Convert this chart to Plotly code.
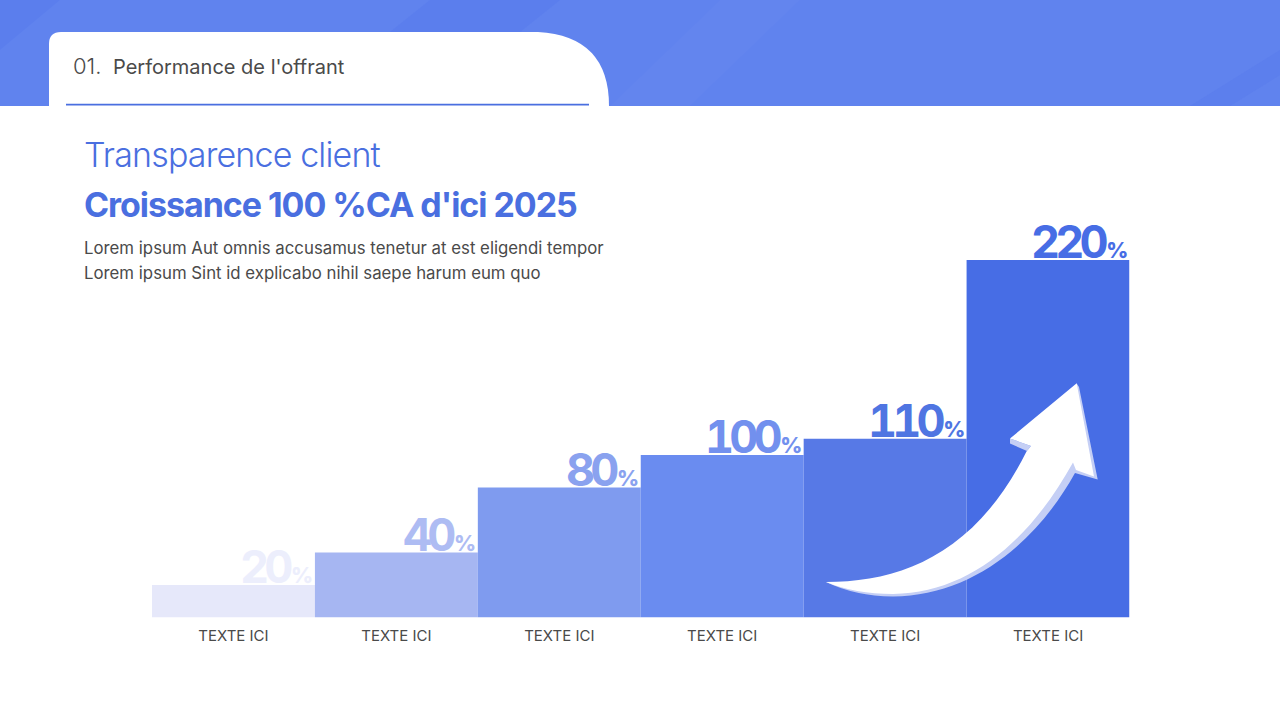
import plotly.graph_objects as go

categories = ["TEXTE ICI"] * 6
values = [20, 40, 80, 100, 110, 220]
bar_colors = ["#e6e8fa", "#a6b6f2", "#7f9bef", "#6a8cf0", "#5779e6", "#476de5"]
label_colors = ["#eceefc", "#aebcf3", "#8aa2ef", "#7290ee", "#4f75e2", "#476de5"]
positions = list(range(len(values)))

W, H = 1280, 720
def X(p): return p / W
def Y(p): return 1 - p / H
def P(cmds):
    out = []
    for c in cmds:
        if isinstance(c, str):
            out.append(c)
        else:
            out.append(f"{X(c[0]):.5f},{Y(c[1]):.5f}")
    return " ".join(out)
def rect(x0, y0, x1, y1, color, op=1.0):
    return dict(type="rect", xref="paper", yref="paper", x0=X(x0), x1=X(x1), y0=Y(y1), y1=Y(y0),
                fillcolor=color, opacity=op, line_width=0, layer="below")
def poly(pts, color, op=1.0, layer="below"):
    s = "M " + " L ".join(f"{X(a):.5f},{Y(b):.5f}" for a, b in pts) + " Z"
    return dict(type="path", xref="paper", yref="paper", path=s, fillcolor=color, opacity=op,
                line_width=0, layer=layer)
def path(cmds, color, op=1.0, layer="below"):
    return dict(type="path", xref="paper", yref="paper", path=P(cmds), fillcolor=color, opacity=op,
                line_width=0, layer=layer)

shapes = [
    rect(0, 0, 1280, 106, "#6083ee"),
    poly([(0, 0), (60, 0), (0, 50)], "#4f74ea", 0.3),
    poly([(390, 32), (430, 0), (560, 0), (520, 32)], "#4f74ea", 0.3),
    poly([(610, 106), (720, 0), (800, 0), (690, 106)], "#ffffff", 0.02),
    poly([(1190, 106), (1280, 50), (1280, 75), (1230, 106)], "#4f74ea", 0.25),
    # tab
    path(["M", (49, 106), "L", (49, 44), "Q", (49, 32), (61, 32), "L", (538, 32),
          "Q", (609, 36), (609, 106), "Z"], "#ffffff"),
    rect(66, 103.8, 589, 105.4, "#4a6fe0"),
    # arrow shadow
    path(["M", (826, 582), "Q", (855, 596), (893, 596.5),
          "C", (970, 596), (1035, 545), (1075, 473),
          "L", (1097.7, 479.5), "L", (1079, 387), "L", (1076.7, 383.5),
          "L", (1060, 440), "C", (1020, 520), (960, 585), (893, 588), "Z"],
         "#c5cff5", 1, "above"),
    path(["M", (1010, 438.5), "L", (1010, 443.5), "L", (1027, 451), "L", (1031, 446), "Z"],
         "#c5cff5", 1, "above"),
    # arrow
    path(["M", (826, 582), "C", (900, 582), (975, 555), (1026.5, 451.5),
          "L", (1031, 446), "L", (1010, 438.5), "L", (1076.7, 383.3),
          "L", (1094, 476.5), "L", (1076, 470), "L", (1073, 462.5),
          "C", (1030, 540), (970, 593), (893, 594), "Q", (855, 594), (826, 582), "Z"],
         "#ffffff", 1, "above"),
]

annotations = []
def txt(x, y, s, size, color, weight=400, anchor="left"):
    annotations.append(dict(xref="paper", yref="paper", x=X(x), y=Y(y), text=s, showarrow=False,
                            xanchor=anchor, yanchor="middle", align="left",
                            font=dict(family="Inter", size=size, color=color, weight=weight)))

txt(71, 66, "01.", 22, "#4a4a4a", 300)
txt(110.5, 66.5, "Performance de l'offrant", 20, "#4a4a4a", 400)
txt(82, 154, "<span style='letter-spacing:-0.85px'>Transparence client</span>", 34, "#4a6fe0", 300)
txt(82, 204.5, "<span style='letter-spacing:-1.05px'>Croissance 100 %CA d'ici 2025</span>", 34, "#4a6fe0", 700)
txt(82, 248, "Lorem ipsum Aut omnis accusamus tenetur at est eligendi tempor", 16.8, "#4a4a4a", 400)
txt(82, 273, "Lorem ipsum Sint id explicabo nihil saepe harum eum quo", 16.8, "#4a4a4a", 400)

digit_style = "font-size:45px;font-weight:700;font-feature-settings:\"tnum\";"
for pos, v, c in zip(positions, values, label_colors):
    s = str(v)
    annotations.append(dict(
        xref="x", yref="y", x=pos + 0.5, y=v, xanchor="right", yanchor="bottom", showarrow=False,
        xshift=0, yshift=-11,
        text=(f"<span style='{digit_style}letter-spacing:-4.8px'>{s[:-1]}</span>"
              f"<span style='{digit_style}letter-spacing:-2.5px'>{s[-1]}</span>"
              f"<span style='font-size:21.5px;font-weight:800'>%</span>"),
        font=dict(family="Inter", size=45, color=c, weight=700),
    ))

fig = go.Figure(go.Bar(
    x=positions, y=values, width=1, marker=dict(color=bar_colors, line_width=0),
    hoverinfo="skip",
))
fig.update_layout(
    width=W, height=H, margin=dict(l=0, r=0, t=0, b=0), paper_bgcolor="#ffffff", plot_bgcolor="rgba(0,0,0,0)",
    showlegend=False, shapes=shapes, annotations=annotations,
    xaxis=dict(domain=[X(152), X(1129.5)], range=[-0.5, 5.5], tickmode="array", tickvals=positions,
               ticktext=categories, ticks="outside", ticklen=4.5, tickcolor="rgba(0,0,0,0)",
               showgrid=False, zeroline=False, showline=False,
               tickfont=dict(family="Inter", size=15, color="#4a4a4a"), fixedrange=True),
    yaxis=dict(domain=[Y(617.5), Y(260)], range=[0, 220], visible=False, showgrid=False, zeroline=False,
               fixedrange=True),
)
fig.write_html("out.html", config=dict(displayModeBar=False),
               post_script="document.body.style.margin='0';document.body.style.overflow='hidden';")
